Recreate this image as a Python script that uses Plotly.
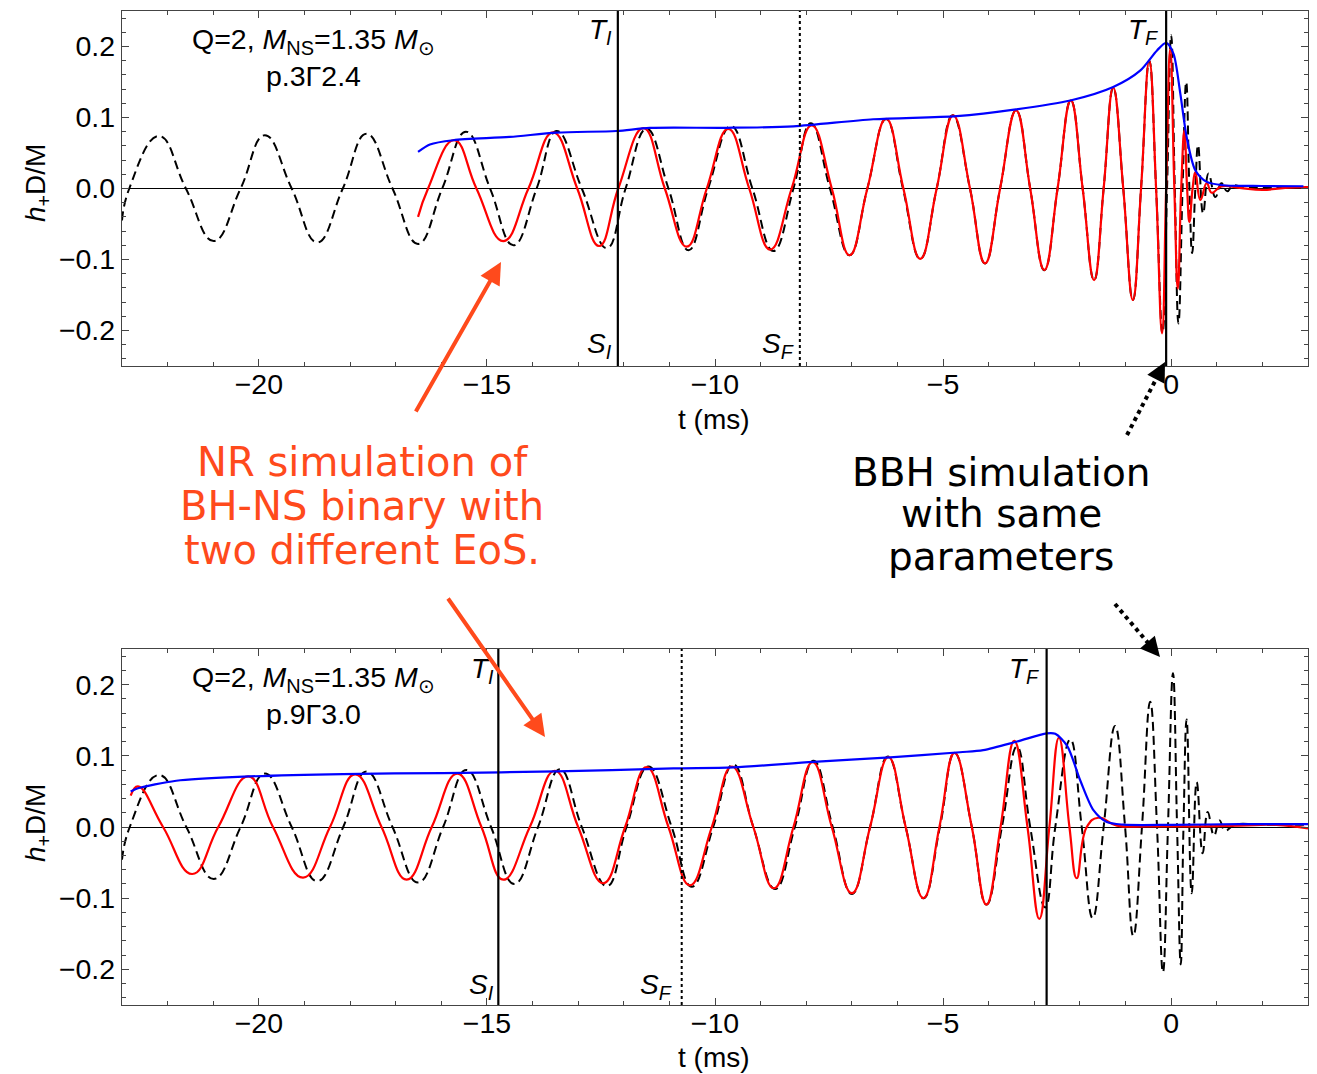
import plotly.graph_objects as go

# ---------------- data ----------------
# Top panel  (p.3 Gamma 2.4)
top_bbh_t = [-23.0, -22.84, -22.19, -21.6, -20.99, -20.40, -19.87, -19.28, -18.72, -18.16,
             -17.64, -17.07, -16.51, -15.98, -15.46, -14.93, -14.42, -13.91, -13.47, -12.92,
             -12.37, -11.96, -11.50, -11.02, -10.58, -10.15, -9.65, -9.18, -8.72, -8.28,
             -7.90, -7.48, -7.05, -6.66, -6.25, -5.88, -5.50, -5.14, -4.79, -4.41,
             -4.08, -3.75, -3.40, -3.09, -2.78, -2.49, -2.20, -1.94, -1.69, -1.48,
             -1.27, -1.05, -0.84, -0.66, -0.48, -0.33, -0.19, -0.09, 0.0, 0.08,
             0.16, 0.25, 0.33, 0.40, 0.46, 0.53, 0.59, 0.70, 0.82, 0.97,
             1.10, 1.23, 1.35, 1.6, 2.2, 3.0]
top_bbh_h = [-0.045, 0, 0.074, 0, -0.074, 0, 0.075, 0, -0.076, 0,
             0.077, 0, -0.078, 0, 0.080, 0, -0.080, 0, 0.081, 0,
             -0.084, 0, 0.084, 0, -0.087, 0, 0.088, 0, -0.088, 0,
             0.092, 0, -0.094, 0, 0.098, 0, -0.099, 0, 0.103, 0,
             -0.1055, 0, 0.110, 0, -0.115, 0, 0.124, 0, -0.129, 0,
             0.142, 0, -0.157, 0, 0.180, 0, -0.204, 0, 0.216, 0,
             -0.190, 0, 0.150, 0, -0.091, 0, 0.061, -0.035, 0.021, -0.012,
             0.0075, -0.004, 0.004, 0.002, 0.002, 0.002]

top_nr_t = [-16.51, -16.29, -15.72, -15.23, -14.64, -14.09, -13.55, -13.02, -12.54, -12.12,
            -11.57, -11.10, -10.62, -10.18, -9.71, -9.25, -8.79, -8.32, -7.88, -7.44,
            -7.05, -6.66, -6.25, -5.87, -5.50, -5.14, -4.78, -4.41, -4.08, -3.75,
            -3.40, -3.09, -2.78, -2.49, -2.20, -1.94, -1.69, -1.48, -1.27, -1.05,
            -0.84, -0.66, -0.48, -0.33, -0.20, -0.11, -0.02, 0.07, 0.146, 0.22,
            0.29, 0.35, 0.40, 0.47, 0.53, 0.64, 0.78, 0.89, 1.1, 1.5,
            2.0, 2.5, 3.0]
top_nr_h = [-0.040, 0, 0.068, 0, -0.074, 0, 0.079, 0, -0.081, 0,
            0.085, 0, -0.082, 0, 0.084, 0, -0.086, 0, 0.089, 0,
            -0.094, 0, 0.098, 0, -0.099, 0, 0.103, 0, -0.1055, 0,
            0.110, 0, -0.115, 0, 0.124, 0, -0.129, 0, 0.142, 0,
            -0.157, 0, 0.180, 0, -0.204, 0, 0.197, 0, -0.141, 0,
            0.082, 0, -0.047, 0, 0.023, -0.016, 0.0075, -0.006, 0.003, 0.001,
            -0.002, 0.001, 0.002]

top_env_t = [-16.51, -16.25, -15.74, -14.5, -13.47, -12.16, -11.43, -9.74, -8.28, -6.53,
             -4.70, -3.40, -2.21, -1.27, -0.68, -0.31, -0.11, 0.05, 0.20, 0.34,
             0.53, 0.78, 1.15, 2.0, 2.9]
top_env_h = [0.0515, 0.062, 0.068, 0.0726, 0.0787, 0.081, 0.0853, 0.0855, 0.0876, 0.0975,
             0.102, 0.1115, 0.124, 0.143, 0.166, 0.1945, 0.205, 0.19, 0.134, 0.0726,
             0.0257, 0.0093, 0.0046, 0.0035, 0.0032]

# Bottom panel (p.9 Gamma 3.0)
bot_bbh_t = [-23.0, -22.83, -22.19, -21.59, -20.99, -20.40, -19.87, -19.28, -18.72, -18.15,
             -17.64, -17.07, -16.51, -15.96, -15.45, -14.91, -14.40, -13.88, -13.40, -12.92,
             -12.37, -11.94, -11.46, -10.95, -10.51, -10.04, -9.60, -9.16, -8.68, -8.25,
             -7.84, -7.42, -7.00, -6.60, -6.21, -5.82, -5.43, -5.07, -4.75, -4.37,
             -4.05, -3.71, -3.38, -3.09, -2.76, -2.54, -2.21, -1.96, -1.72, -1.48,
             -1.23, -1.01, -0.83, -0.64, -0.46, -0.31, -0.18, -0.07, 0.04, 0.13,
             0.21, 0.27, 0.34, 0.45, 0.56, 0.69, 0.80, 0.94, 1.06, 1.18,
             1.4, 2.0, 3.0]
bot_bbh_h = [-0.046, 0, 0.073, 0, -0.073, 0, 0.075, 0, -0.076, 0,
             0.078, 0, -0.078, 0, 0.080, 0, -0.080, 0, 0.081, 0,
             -0.083, 0, 0.085, 0, -0.084, 0, 0.088, 0, -0.087, 0,
             0.093, 0, -0.094, 0, 0.099, 0, -0.100, 0, 0.104, 0,
             -0.109, 0, 0.113, 0, -0.113, 0, 0.123, 0, -0.128, 0,
             0.142, 0, -0.153, 0, 0.176, 0, -0.204, 0, 0.216, 0,
             -0.193, 0, 0.151, -0.093, 0.063, -0.037, 0.021, -0.012, 0.009, -0.005,
             0.003, 0.003, 0.003]

bot_nr_t = [-22.81, -22.65, -22.10, -21.46, -20.89, -20.23, -19.69, -19.03, -18.44, -17.89,
            -17.31, -16.76, -16.21, -15.65, -15.12, -14.64, -14.06, -13.51, -13.00, -12.45,
            -11.97, -11.50, -11.02, -10.55, -10.07, -9.63, -9.16, -8.71, -8.28, -7.86,
            -7.44, -7.00, -6.60, -6.20, -5.82, -5.43, -5.08, -4.75, -4.37, -4.05,
            -3.74, -3.44, -3.15, -2.89, -2.67, -2.46, -2.23, -2.07, -1.85, -1.60,
            -1.19, -0.5, 0.5, 1.5, 2.3, 3.0]
bot_nr_h = [0.044, 0.057, 0, -0.066, 0, 0.071, 0, -0.071, 0, 0.074,
            0, -0.074, 0, 0.075, 0, -0.074, 0, 0.079, 0, -0.079,
            0, 0.084, 0, -0.082, 0, 0.085, 0, -0.086, 0, 0.091,
            0, -0.093, 0, 0.098, 0, -0.100, 0, 0.104, 0, -0.109,
            0, 0.121, 0, -0.129, 0, 0.1256, 0, -0.072, 0, 0.013,
            0.002, 0.001, 0.001, 0.002, 0.003, -0.002]

bot_env_t = [-22.81, -22.65, -21.81, -20.34, -18.15, -15.96, -13.47, -10.91, -9.60, -7.84,
             -6.16, -4.63, -4.12, -3.38, -2.73, -2.54, -2.28, -1.99, -1.70, -1.41,
             -1.05, 0.0, 1.5, 3.0]
bot_env_h = [0.0498, 0.0544, 0.065, 0.0707, 0.0744, 0.0758, 0.078, 0.0823, 0.0837, 0.0916,
             0.0977, 0.105, 0.108, 0.120, 0.1316, 0.131, 0.114, 0.065, 0.0233, 0.007,
             0.0033, 0.003, 0.004, 0.004]

# marker times (ms): T_I/S_I, S_F, T_F
top_marks = {"TI": -12.13, "SF": -8.14, "TF": -0.11}
bot_marks = {"TI": -14.75, "SF": -10.73, "TF": -2.73}

x_tickvals = [-20, -15, -10, -5, 0]
x_ticktext = ["\u221220", "\u221215", "\u221210", "\u22125", "0"]
y_tickvals = [-0.2, -0.1, 0.0, 0.1, 0.2]
y_ticktext = ["\u22120.2", "\u22120.1", "0.0", "0.1", "0.2"]

panel_labels = ["p.3\u03932.4", "p.9\u03933.0"]
header = "Q=2, <i>M</i><sub>NS</sub>=1.35 <i>M</i><sub>\u2299</sub>"
nr_lines = ["NR simulation of", "BH-NS binary with", "two different EoS."]
bbh_lines = ["BBH simulation", "with same", "parameters"]

# ---------------- layout geometry ----------------
OFF = 8                      # page body margin of the html page
W, H = 1317 - OFF, 1074 - OFF
ML, MR, MT, MB = 122 - OFF, 9, 11 - OFF, 1074 - 1005
PW, PH = W - ML - MR, H - MT - MB


def PX(px):                  # screen pixel -> paper fraction
    return (px - OFF - ML) / PW


def PY(py):
    return (H - MB - (py - OFF)) / PH


top_dom = [PY(366), 1.0]
bot_dom = [0.0, PY(649)]

FONT = "Liberation Sans, Arial, Helvetica, sans-serif"
CASUAL = "DejaVu Sans, Noto Sans, sans-serif"
ORANGE = "#ff4a1c"
FRAME = "#444444"

fig = go.Figure()

wave_common = dict(mode="lines", hoverinfo="skip", showlegend=False)
for (bt, bh, nt, nh, et, eh, xa, ya) in [
    (top_bbh_t, top_bbh_h, top_nr_t, top_nr_h, top_env_t, top_env_h, "x", "y"),
    (bot_bbh_t, bot_bbh_h, bot_nr_t, bot_nr_h, bot_env_t, bot_env_h, "x2", "y2"),
]:
    fig.add_trace(go.Scatter(x=bt, y=bh, xaxis=xa, yaxis=ya,
                             line=dict(color="black", width=2, dash="9px,5px",
                                       shape="spline", smoothing=1.3), **wave_common))
    fig.add_trace(go.Scatter(x=nt, y=nh, xaxis=xa, yaxis=ya,
                             line=dict(color="#ff0000", width=2.2,
                                       shape="spline", smoothing=1.3), **wave_common))
    fig.add_trace(go.Scatter(x=et, y=eh, xaxis=xa, yaxis=ya,
                             line=dict(color="#0000ff", width=2.2,
                                       shape="spline", smoothing=0.8), **wave_common))

xax = dict(range=[-23, 3], showgrid=False, showline=True, linecolor=FRAME, linewidth=1.3,
           mirror="allticks", ticks="inside", ticklen=7, tickwidth=1, tickcolor=FRAME,
           tickmode="array", tickvals=x_tickvals, ticktext=x_ticktext,
           tickfont=dict(family=FONT, size=28.5, color="black"), zeroline=False,
           ticklabelstandoff=-7,
           minor=dict(tickmode="linear", tick0=0, dtick=1, ticks="inside",
                      ticklen=4, tickcolor=FRAME))
yax = dict(range=[-0.25, 0.25], showgrid=False, showline=True, linecolor=FRAME, linewidth=1.3,
           mirror="allticks", ticks="inside", ticklen=7, tickwidth=1, tickcolor=FRAME,
           tickmode="array", tickvals=y_tickvals, ticktext=y_ticktext,
           tickfont=dict(family=FONT, size=28.5, color="black"),
           zeroline=True, zerolinecolor="black", zerolinewidth=1,
           minor=dict(tickmode="linear", tick0=0, dtick=0.02, ticks="inside",
                      ticklen=4, tickcolor=FRAME))

fig.update_layout(
    width=W, height=H, margin=dict(l=ML, r=MR, t=MT, b=MB),
    paper_bgcolor="white", plot_bgcolor="white", showlegend=False,
    xaxis=dict(xax, domain=[0, 1], anchor="y"),
    yaxis=dict(yax, domain=top_dom, anchor="x"),
    xaxis2=dict(xax, domain=[0, 1], anchor="y2"),
    yaxis2=dict(yax, domain=bot_dom, anchor="x2"),
)

# vertical marker lines
for marks, xr, yr in [(top_marks, "x", "y domain"), (bot_marks, "x2", "y2 domain")]:
    fig.add_shape(type="line", xref=xr, yref=yr, x0=marks["TI"], x1=marks["TI"], y0=0, y1=1,
                  line=dict(color="black", width=2.2))
    fig.add_shape(type="line", xref=xr, yref=yr, x0=marks["SF"], x1=marks["SF"], y0=0, y1=1,
                  line=dict(color="black", width=2, dash="dot"))
    fig.add_shape(type="line", xref=xr, yref=yr, x0=marks["TF"], x1=marks["TF"], y0=0, y1=1,
                  line=dict(color="black", width=2.2))

ann = []
lab_font = dict(family=FONT, size=28, color="black")


def mark_label(text, tval, xr, py, shift):
    ann.append(dict(text=text, x=tval, xref=xr, y=PY(py), yref="paper", xanchor="right",
                    yanchor="middle", xshift=shift, showarrow=False, font=lab_font))


def ctext(text, px, py, font, angle=0):
    ann.append(dict(text=text, x=PX(px), y=PY(py), xref="paper", yref="paper",
                    xanchor="center", yanchor="middle", textangle=angle,
                    showarrow=False, font=font))


mark_label("<i>T<sub>I</sub></i>", top_marks["TI"], "x", 32, -4)
mark_label("<i>S<sub>I</sub></i>", top_marks["TI"], "x", 345, -4)
mark_label("<i>S<sub>F</sub></i>", top_marks["SF"], "x", 345, -4)
mark_label("<i>T<sub>F</sub></i>", top_marks["TF"], "x", 32, -6)
mark_label("<i>T<sub>I</sub></i>", bot_marks["TI"], "x2", 670, -2)
mark_label("<i>S<sub>I</sub></i>", bot_marks["TI"], "x2", 986, -2)
mark_label("<i>S<sub>F</sub></i>", bot_marks["SF"], "x2", 986, -8)
mark_label("<i>T<sub>F</sub></i>", bot_marks["TF"], "x2", 670, -6)

hfont = dict(family=FONT, size=28.5, color="black")
for (py1, py2, lab) in [(41, 76, panel_labels[0]), (679, 714, panel_labels[1])]:
    ctext(header, 313, py1, hfont)
    ctext(lab, 313, py2, hfont)

# axis titles
afont = dict(family=FONT, size=28, color="black")
for py in [183, 823]:
    ctext("<i>h</i><sub>+</sub>D/M", 37, py, afont, angle=-90)
for py in [419, 1057]:
    ctext("t (ms)", 714, py, afont)

# callout texts
for i, line in enumerate(nr_lines):
    ctext(line, 362, [462, 506, 550][i], dict(family=CASUAL, size=40, color=ORANGE))
for i, line in enumerate(bbh_lines):
    ctext(line, 1001, [472, 514, 557][i], dict(family=CASUAL, size=39, color="black"))

# orange arrows
for (hx, hy, tx, ty) in [(501, 262, 415, 413), (545, 737, 447, 597)]:
    ann.append(dict(text="", x=PX(hx), y=PY(hy), xref="paper", yref="paper",
                    ax=tx - hx, ay=ty - hy, showarrow=True, arrowhead=2, arrowsize=1.1,
                    arrowwidth=4, arrowcolor=ORANGE))

# black dotted arrows: dotted shaft + short arrowhead
for (hx, hy, tx, ty) in [(1165, 362, 1127, 435), (1160, 657, 1115, 604)]:
    dx, dy = hx - tx, hy - ty
    L = (dx * dx + dy * dy) ** 0.5
    ux, uy = dx / L, dy / L
    fig.add_shape(type="line", xref="paper", yref="paper",
                  x0=PX(tx), y0=PY(ty), x1=PX(hx - ux * 12), y1=PY(hy - uy * 12),
                  line=dict(color="black", width=4, dash="dot"))
    ann.append(dict(text="", x=PX(hx), y=PY(hy), xref="paper", yref="paper",
                    ax=-ux * 16, ay=-uy * 16, showarrow=True, arrowhead=2, arrowsize=1.3,
                    arrowwidth=3, arrowcolor="black"))

fig.update_layout(annotations=ann)
fig.write_html("out.html")
